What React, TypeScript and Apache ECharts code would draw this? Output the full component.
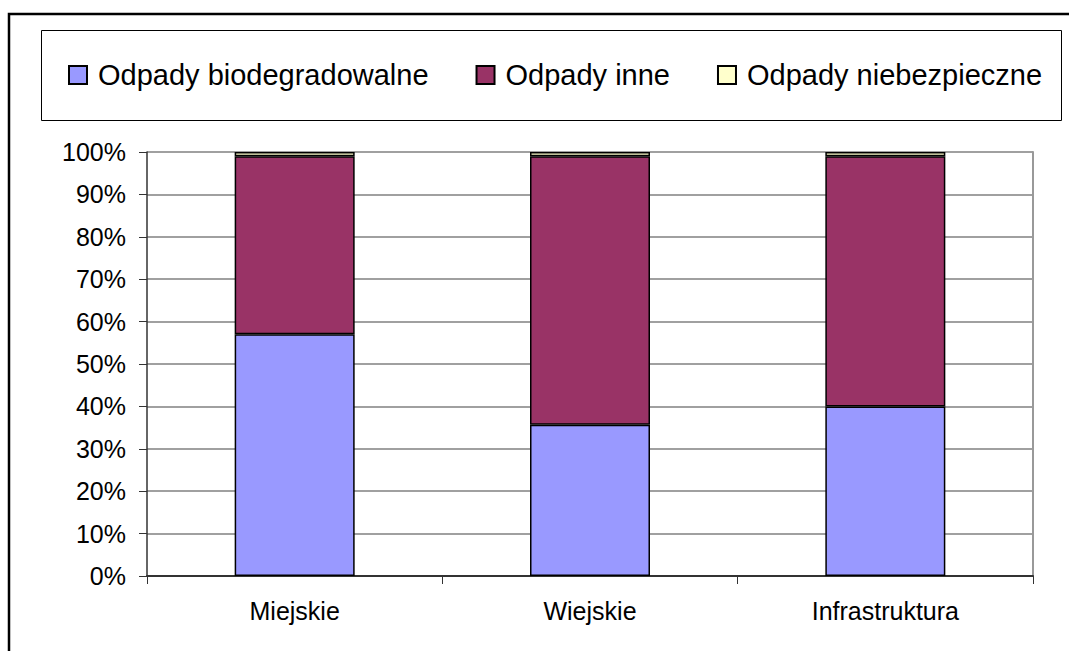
import React, { useEffect, useRef } from "react";
import * as echarts from "echarts";

const categories = ["Miejskie", "Wiejskie", "Infrastruktura"];
const seriesNames = ["Odpady biodegradowalne", "Odpady inne", "Odpady niebezpieczne"];
const bioValues = [57, 35.7, 40];
const inneValues = [42, 63.3, 59];
const niebValues = [1, 1, 1];
const colors = ["#9999FF", "#993366", "#FFFFCC"];

export default function App() {
  const ref = useRef<HTMLDivElement>(null);
  useEffect(() => {
    if (!ref.current) return;
    const chart = echarts.init(ref.current, null, { renderer: "svg" });
    const font = "'Liberation Sans', Arial, sans-serif";
    const data = [bioValues, inneValues, niebValues];
    chart.setOption({
      animation: false,
      backgroundColor: "#ffffff",
      textStyle: { fontFamily: font },
      graphic: [
        {
          type: "rect",
          shape: { x: 9, y: 14, width: 1100, height: 700 },
          style: { fill: "none", stroke: "#000", lineWidth: 2.5 },
          silent: true,
        },
        {
          type: "rect",
          shape: { x: 41.5, y: 30.5, width: 1020, height: 90 },
          style: { fill: "none", stroke: "#000", lineWidth: 1 },
          silent: true,
        },
      ],
      legend: {
        left: 63,
        top: 55,
        itemWidth: 18,
        itemHeight: 18,
        itemGap: 47,
        icon: "rect",
        data: seriesNames,
        textStyle: {
          fontFamily: font,
          fontSize: 29,
          color: "#000",
          lineHeight: 30,
          padding: [0, 0, 0, 6],
        },
      },
      grid: { left: 147, right: 36, top: 152, bottom: 75 },
      xAxis: {
        type: "category",
        data: categories,
        axisLine: { show: true, lineStyle: { color: "#333", width: 2 } },
        axisTick: { show: true, length: 8, lineStyle: { color: "#333", width: 1 } },
        axisLabel: { color: "#000", fontSize: 25, fontFamily: font, margin: 22 },
      },
      yAxis: [
        {
          type: "value",
          min: 0,
          max: 100,
          interval: 10,
          axisLine: { show: true, lineStyle: { color: "#333", width: 1.5 } },
          axisTick: { show: true, length: 8, lineStyle: { color: "#333" } },
          splitLine: { show: true, lineStyle: { color: "#808080", width: 1.5 } },
          axisLabel: {
            formatter: "{value}%",
            color: "#000",
            fontSize: 25,
            fontFamily: font,
            margin: 21,
          },
        },
        {
          type: "value",
          position: "right",
          min: 0,
          max: 100,
          interval: 10,
          axisLine: { show: true, lineStyle: { color: "#999", width: 2 } },
          axisTick: { show: false },
          axisLabel: { show: false },
          splitLine: { show: false },
        },
      ],
      series: seriesNames.map((name, i) => ({
        name,
        type: "bar",
        stack: "total",
        yAxisIndex: 0,
        barWidth: 120,
        data: data[i],
        itemStyle: { color: colors[i], borderColor: "#000", borderWidth: 1.5 },
      })),
    });
    return () => chart.dispose();
  }, []);
  return (
    <div
      ref={ref}
      style={{ position: "fixed", left: 0, top: 0, width: 1069, height: 651 }}
    />
  );
}
